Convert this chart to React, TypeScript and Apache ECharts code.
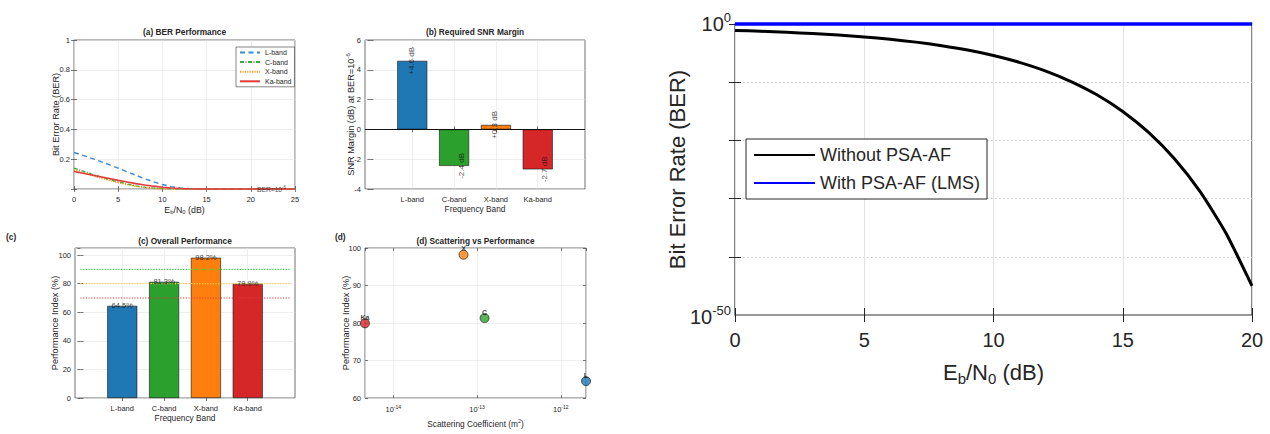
import React, { useEffect, useRef } from "react";
import * as echarts from "echarts";

const FONT = '"Liberation Sans", Arial, Helvetica, sans-serif';
const INK = "#262626";
const GRIDC = "#e2e2e2";

// ---------- (a) BER Performance ----------
const ebn0A = [0, 1, 2, 3, 4, 5, 6, 7, 8, 9, 10, 11, 12, 13, 14, 15, 16, 17, 18, 19, 20, 21, 22, 23, 24, 25];
const berLband = [0.245, 0.226, 0.206, 0.185, 0.163, 0.14, 0.116, 0.092, 0.069, 0.048, 0.03, 0.016, 0.007, 0.003, 0.001, 0.0004, 0, 0, 0, 0, 0, 0, 0, 0, 0, 0];
const berCband = [0.14, 0.12, 0.1, 0.081, 0.063, 0.047, 0.033, 0.021, 0.012, 0.006, 0.0025, 0.001, 0.0003, 0, 0, 0, 0, 0, 0, 0, 0, 0, 0, 0, 0, 0];
const berXband = [0.13, 0.111, 0.092, 0.074, 0.057, 0.042, 0.029, 0.018, 0.01, 0.005, 0.002, 0.0007, 0.0002, 0, 0, 0, 0, 0, 0, 0, 0, 0, 0, 0, 0, 0];
const berKaband = [0.118, 0.106, 0.094, 0.082, 0.07, 0.058, 0.047, 0.036, 0.027, 0.019, 0.012, 0.007, 0.0035, 0.0015, 0.0005, 0.0002, 0, 0, 0, 0, 0, 0, 0, 0, 0, 0];
const berTargetNote = [20.7, 0];

// ---------- shared bands ----------
const bandNames = ["L-band", "C-band", "X-band", "Ka-band"];
const bandPos = [1, 2, 3, 4];
const bandColors = ["#1f77b4", "#2ca02c", "#ff7f0e", "#d62728"];
const lineColors = ["#3b8ad2", "#3aaa3a", "#ff9a2a", "#e33a3a"];

// ---------- (b) Required SNR margin ----------
const snrMargin = [4.6, -2.45, 0.3, -2.68];
const snrLabels = ["+4.6 dB", "-2.4 dB", "+0.3 dB", "-2.7 dB"];

// ---------- (c) Overall performance ----------
const perfIndex = [64.5, 81.3, 98.2, 79.9];
const perfLabels = ["64.5%", "81.3%", "98.2%", "79.9%"];
const perfThresholds = [90, 80, 70];
const thresholdColors = ["#33dd33", "#ffcf4a", "#e03a3a"];
const thresholdSpan = [0, 5];

// ---------- (d) Scattering vs performance ----------
const scatterCoef = [2.0e-12, 1.23e-13, 6.9e-14, 4.6e-15];
const scatterShort = ["L", "C", "X", "Ka"];

// ---------- (e) BER with / without PSA-AF ----------
const ebn0E = [0, 1, 2, 3, 4, 5, 6, 7, 8, 9, 10, 11, 12, 13, 14, 15, 16, 17, 18, 19, 20];
const berWithout = [7.9e-2, 5.6e-2, 3.8e-2, 2.3e-2, 1.25e-2, 6.0e-3, 2.4e-3, 7.7e-4, 1.9e-4, 3.4e-5, 3.9e-6, 2.6e-7, 9.0e-9, 1.3e-10, 6.8e-13, 9.3e-16, 2.3e-19, 6.8e-24, 1.4e-29, 1.0e-36, 1.0e-45];
const berWith = [1, 1, 1, 1, 1, 1, 1, 1, 1, 1, 1, 1, 1, 1, 1, 1, 1, 1, 1, 1, 1];
const legendE = ["Without PSA-AF", "With PSA-AF (LMS)"];
const yTicksE = ["10{u|0}", "10{u|-50}"];

const small = (size: number, extra: any = {}) => ({ fontSize: size, color: INK, fontFamily: FONT, ...extra });
const TICK = 7.5;
const YNAME = 9.2;

function smallAxis(grid: number, extra: any) {
  return {
    gridIndex: grid,
    nameMoveOverlap: false,
    axisLine: { show: false },
    axisTick: { show: true, inside: true, length: 3, lineStyle: { color: INK, width: 0.6 } },
    axisLabel: small(TICK, { margin: 5 }),
    splitLine: { show: true, lineStyle: { color: GRIDC, width: 0.6 } },
    nameLocation: "middle",
    ...extra,
  };
}
function mirror(ax: any, pos: string) {
  return {
    ...ax,
    position: pos,
    name: "",
    axisLabel: { ...ax.axisLabel, show: false },
    splitLine: { show: false },
  };
}

const subRich = (m: number, s: number, lh: number) => ({
  m: small(m, { lineHeight: lh }),
  s: small(s, { lineHeight: s, verticalAlign: "bottom" }),
  u: small(s, { lineHeight: s, verticalAlign: "top" }),
});

export default function App() {
  const ref = useRef<HTMLDivElement>(null);
  useEffect(() => {
    if (!ref.current) return;
    const chart = echarts.init(ref.current, null, { renderer: "svg" });

    const bandFmt = (v: number) => bandNames[Math.round(v) - 1] || "";
    const catX = (grid: number) =>
      smallAxis(grid, {
        type: "value",
        min: -0.13,
        max: 5.13,
        axisLabel: small(TICK, { margin: 6, customValues: bandPos, formatter: bandFmt }),
        axisTick: { show: true, inside: true, length: 3, customValues: bandPos, lineStyle: { color: INK, width: 0.6 } },
        name: "Frequency Band",
        nameGap: 16,
        nameTextStyle: small(8.3),
      });

    const xA = smallAxis(0, {
      type: "value", min: 0, max: 25, interval: 5,
      axisLabel: small(TICK, { margin: 6 }),
      name: "{m|E}{s|b}{m|/N}{s|0}{m| (dB)}",
      nameGap: 15,
      nameTextStyle: { rich: subRich(8.8, 6, 11) },
    });
    const yA = smallAxis(0, {
      type: "value", min: 0, max: 1, interval: 0.2,
      axisLabel: small(TICK, { margin: 4, formatter: (v: number) => (v === 0 ? "" : String(+v.toFixed(1))) }),
      name: "Bit Error Rate (BER)", nameGap: 14, nameTextStyle: small(YNAME),
    });
    const xB = catX(1);
    const yB = smallAxis(1, {
      type: "value", min: -4, max: 6, interval: 2,
      axisLabel: small(TICK, { margin: 4 }),
      name: "SNR Margin (dB) at BER=10{u|-6}", nameGap: 8,
      nameTextStyle: { ...small(YNAME), lineHeight: 12, rich: { u: small(6, { lineHeight: 5, verticalAlign: "top" }) } },
    });
    const xC = catX(2);
    const yC = smallAxis(2, {
      type: "value", min: 0, max: 105, interval: 20,
      axisLabel: small(TICK, { margin: 4, showMaxLabel: false, formatter: (v: number) => (v > 100 ? "" : String(v)) }),
      name: "Performance Index (%)", nameGap: 16, nameTextStyle: small(YNAME),
    });
    const xD = smallAxis(3, {
      type: "log", logBase: 10, min: 4.6e-15, max: 2.0e-12,
      axisLabel: small(TICK, {
        margin: 6,
        showMinLabel: false, showMaxLabel: false,
        formatter: (v: number) => {
          const e = Math.log10(v);
          if (!isFinite(e) || Math.abs(e - Math.round(e)) > 1e-6) return "";
          return "10{u|" + Math.round(e) + "}";
        },
        rich: { u: small(5, { lineHeight: 5, verticalAlign: "top" }) },
        lineHeight: 10,
      }),
      name: "Scattering Coefficient (m{u|2})", nameGap: 20,
      nameTextStyle: { ...small(8.3), lineHeight: 11, rich: { u: small(5.5, { lineHeight: 5, verticalAlign: "top" }) } },
    });
    const yD = smallAxis(3, {
      type: "value", min: 60, max: 100, interval: 10,
      axisLabel: small(TICK, { margin: 4 }),
      name: "Performance Index (%)", nameGap: 15, nameTextStyle: small(YNAME),
    });

    const bigTick = { show: true, inside: true, length: 7, lineStyle: { color: INK, width: 1 } };
    const richE = { u: small(13, { lineHeight: 13, verticalAlign: "top" }) };
    const xE = {
      gridIndex: 4, type: "value", min: 0, max: 20, interval: 5,
      nameMoveOverlap: false,
      axisLine: { show: false },
      axisTick: bigTick,
      axisLabel: small(20, { margin: 15 }),
      splitLine: { show: true, lineStyle: { color: "#e3e3e3", width: 1 } },
      name: "{m|E}{s|b}{m|/N}{s|0}{m| (dB)}", nameLocation: "middle", nameGap: 43,
      nameTextStyle: { rich: subRich(22, 15, 28) },
    };
    const yE = {
      gridIndex: 4, type: "log", logBase: 10, min: 1e-50, max: 1, splitNumber: 5,
      nameMoveOverlap: false,
      axisLine: { show: false },
      axisTick: { ...bigTick, length: 6 },
      axisLabel: small(20, {
        margin: 4,
        lineHeight: 26,
        showMinLabel: false,
        formatter: (v: number) => (v > 0.5 && v < 2 ? yTicksE[0] : ""),
        rich: richE,
      }),
      splitLine: { show: true, lineStyle: { color: "#c8c8c8", width: 1, type: [1.5, 2.5] } },
      name: "Bit Error Rate (BER)", nameLocation: "middle", nameGap: 47,
      nameTextStyle: small(22),
    };

    const xAxes = [xA, mirror(xA, "top"), xB, mirror(xB, "top"), xC, mirror(xC, "top"), xD, mirror(xD, "top"), xE, mirror(xE, "top")];
    const yAxes = [yA, mirror(yA, "right"), yB, mirror(yB, "right"), yC, mirror(yC, "right"), yD, mirror(yD, "right"), yE, mirror(yE, "right")];
    xAxes.forEach((a: any, i: number) => (a.gridIndex = Math.floor(i / 2)));
    yAxes.forEach((a: any, i: number) => (a.gridIndex = Math.floor(i / 2)));

    const boxGrid = (left: number, top: number, width: number, height: number, bw = 0.7) => ({
      left, top, width, height, show: true, borderColor: "#333", borderWidth: bw, backgroundColor: "#fff",
      containLabel: false, outerBoundsMode: "none",
    });

    const idx = (g: number) => ({ xAxisIndex: g * 2, yAxisIndex: g * 2 });
    const hidden = { color: "rgba(0,0,0,0)" };

    const series: any[] = [];
    // (a)
    const aSets = [berLband, berCband, berXband, berKaband];
    const aDash: any[] = [[5, 3.5], [4, 1.5, 1, 1.5], [1.2, 1.2], "solid"];
    aSets.forEach((set, k) => {
      series.push({
        type: "line", name: bandNames[k], ...idx(0), symbol: "none", clip: false,
        data: ebn0A.map((x, i) => [x, set[i]]),
        lineStyle: { color: lineColors[k], width: k === 3 ? 1.6 : 1.4, type: aDash[k] },
        itemStyle: { color: lineColors[k] },
        z: 3 + (k === 3 ? 1 : 0),
      });
    });
    series.push({
      type: "scatter", ...idx(0), symbolSize: 1, itemStyle: hidden, data: [berTargetNote], z: 6, clip: false,
      label: {
        show: true, position: "inside", align: "left", formatter: "BER=10{u|-6}", ...small(6.7), color: "#111",
        lineHeight: 8, rich: { u: small(4.5, { lineHeight: 4, verticalAlign: "top", color: "#111" }) },
      },
    });

    // (b)
    series.push({
      type: "bar", ...idx(1), barWidth: 30,
      data: bandPos.map((x, i) => ({ value: [x, snrMargin[i]], itemStyle: { color: bandColors[i] } })),
      itemStyle: { borderColor: "#111", borderWidth: 0.6 },
      markLine: {
        silent: true, symbol: ["none", "none"], label: { show: false },
        lineStyle: { color: "#111", width: 1, type: "solid" }, data: [{ yAxis: 0 }],
      },
    });
    series.push({
      type: "scatter", ...idx(1), symbolSize: 1, itemStyle: hidden, z: 6, clip: false,
      data: bandPos.map((x, i) => ({
        value: [x, snrMargin[i]],
        label: { offset: snrMargin[i] < 0 ? [0, 7] : [0, -1] },
      })),
      label: {
        show: true, position: "inside", rotate: 90, ...small(8), color: "#111",
        formatter: (p: any) => snrLabels[p.dataIndex],
      },
    });

    // (c)
    series.push({
      type: "bar", ...idx(2), barWidth: 30,
      data: bandPos.map((x, i) => ({ value: [x, perfIndex[i]], itemStyle: { color: bandColors[i] } })),
      itemStyle: { borderColor: "#111", borderWidth: 0.6 },
    });
    perfThresholds.forEach((t, k) => {
      series.push({
        type: "line", ...idx(2), symbol: "none", z: 4,
        data: thresholdSpan.map((x) => [x, t]),
        lineStyle: { color: thresholdColors[k], width: 1.2, type: [1.2, 1.5] },
      });
    });
    series.push({
      type: "scatter", ...idx(2), symbolSize: 1, itemStyle: hidden, z: 6, clip: false,
      data: bandPos.map((x, i) => [x, perfIndex[i]]),
      label: { show: true, position: "inside", ...small(7.5), color: "#111", formatter: (p: any) => perfLabels[p.dataIndex] },
    });

    // (d)
    const minorD: any[] = [];
    [1e-15, 1e-14, 1e-13, 1e-12].forEach((dec) => {
      for (let m = 2; m <= 9; m++) {
        const v = m * dec;
        if (v > 4.6e-15 && v < 2.0e-12) minorD.push({ xAxis: v });
      }
    });
    series.push({
      type: "scatter", ...idx(3), symbolSize: 9, z: 5, clip: false,
      data: scatterCoef.map((c, i) => ({ value: [c, perfIndex[i]], itemStyle: { color: bandColors[i] } })),
      itemStyle: { borderColor: "#111", borderWidth: 0.8 },
      label: {
        show: true, position: "inside", offset: [0, -6], ...small(7), fontWeight: "bold", color: "#111",
        formatter: (p: any) => scatterShort[p.dataIndex],
      },
      markLine: {
        silent: true, symbol: ["none", "none"], label: { show: false }, z: 1,
        lineStyle: { color: "#d0d0d0", width: 0.6, type: [1, 1.5] }, data: minorD,
      },
    });

    // (e)
    series.push({
      type: "line", name: legendE[0], ...idx(4), symbol: "none", clip: false,
      data: ebn0E.map((x, i) => [x, berWithout[i]]), smooth: 0.2,
      lineStyle: { color: "#000", width: 3 }, itemStyle: { color: "#000" }, z: 4,
    });
    series.push({
      type: "line", name: legendE[1], ...idx(4), symbol: "none", clip: false,
      data: ebn0E.map((x, i) => [x, berWith[i]]),
      lineStyle: { color: "#0000ff", width: 3.5 }, itemStyle: { color: "#0000ff" }, z: 5,
    });

    const t = (text: string, x: number, y: number, align = "center") => ({
      type: "text", x, y, z: 10,
      style: { text, fill: INK, font: "bold 8.3px " + FONT, align, verticalAlign: "middle" },
    });

    chart.setOption({
      animation: false,
      backgroundColor: "#fff",
      grid: [
        boxGrid(74, 40, 221, 149),
        boxGrid(365, 40, 220, 149),
        boxGrid(75, 248, 220, 150),
        boxGrid(365, 248, 221, 150),
        boxGrid(735, 24, 517, 291, 1.2),
      ],
      xAxis: xAxes,
      yAxis: yAxes,
      legend: [
        {
          left: 236, top: 47, orient: "vertical", data: bandNames, selectedMode: false,
          itemWidth: 20, itemHeight: 7, itemGap: 2.6, padding: [2, 3, 2, 3],
          borderColor: "#333", borderWidth: 0.6, backgroundColor: "#fff",
          itemStyle: { opacity: 0 },
          textStyle: small(7),
        },
        {
          left: 746, top: 139, orient: "vertical", data: legendE, selectedMode: false,
          itemWidth: 61, itemHeight: 14, itemGap: 8, padding: [6, 7, 6, 7],
          borderColor: "#262626", borderWidth: 1, backgroundColor: "#fff",
          itemStyle: { opacity: 0 },
          textStyle: small(18, { lineHeight: 20 }),
        },
      ],
      graphic: [
        t("(a) BER Performance", 184.5, 32),
        t("(b) Required SNR Margin", 475, 32),
        t("(c) Overall Performance", 185, 240.5),
        t("(d) Scattering vs Performance", 475.5, 240.5),
        t("(c)", 6, 237, "left"),
        t("(d)", 335, 237, "left"),
        {
          type: "text", x: 731, y: 317, z: 10,
          style: {
            text: yTicksE[1], fill: INK, fontSize: 20, fontFamily: FONT, lineHeight: 26,
            align: "right", verticalAlign: "middle", rich: richE,
          },
        },
      ],
      series,
    });
    return () => chart.dispose();
  }, []);

  return (
    <div
      ref={ref}
      style={{ position: "fixed", left: 0, top: 0, width: 1270, height: 434, background: "#fff" }}
    />
  );
}
